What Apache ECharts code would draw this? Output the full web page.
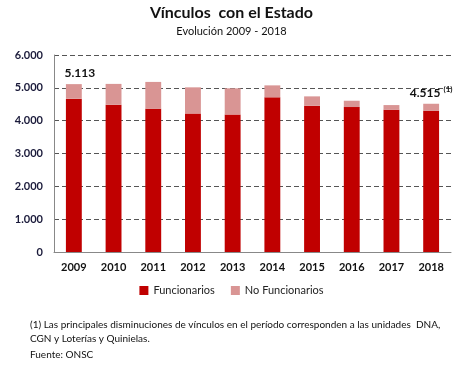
<!DOCTYPE html>
<html><head><meta charset="utf-8">
<script src="https://cdn.jsdelivr.net/npm/echarts@6/dist/echarts.min.js"></script>
<style>html,body{margin:0;padding:0;background:#fff}#c{width:463px;height:372px}</style>
</head><body><div id="c"></div>
<script>
const years = ['2009','2010','2011','2012','2013','2014','2015','2016','2017','2018'];
const funcionarios = [4670,4485,4360,4220,4190,4710,4455,4415,4330,4300];
const noFuncionarios = [443,635,820,795,795,365,285,192,145,215];
const yTicks = [0,1000,2000,3000,4000,5000,6000];
const FONT = 'Lato';
function fmt(v){return String(v).replace(/\B(?=(\d{3})+(?!\d))/g,'.');}
const totals = funcionarios.map((v,i)=>v+noFuncionarios[i]);
const chart = echarts.init(document.getElementById('c'));
const nfData = noFuncionarios.map((v,i)=>{
  if(i===0) return {value:v,label:{show:true,position:'top',distance:5,offset:[6,0],formatter:()=>'{v|'+fmt(totals[i])+'}'}};
  if(i===years.length-1) return {value:v,label:{show:true,position:'top',distance:4,offset:[0,0],formatter:()=>'{v|'+fmt(totals[i])+'} {s|(1)}'}};
  return v;
});
chart.setOption({
  animation:false,
  textStyle:{fontFamily:FONT},
  title:[{text:'Vínculos  con el Estado',left:'center',top:0,textStyle:{fontFamily:FONT,fontSize:16,fontWeight:'bold',color:'#111'}},
         {text:'Evolución 2009 - 2018',left:'center',top:21,textStyle:{fontFamily:FONT,fontSize:11,fontWeight:'normal',color:'#111'}}],
  grid:{left:54,right:12,top:55,bottom:120,containLabel:false},
  legend:{bottom:71,left:'center',itemWidth:9,itemHeight:9,itemGap:16,icon:'rect',textStyle:{fontFamily:FONT,fontSize:11,color:'#222'},data:['Funcionarios','No Funcionarios']},
  xAxis:{type:'category',data:years,axisTick:{show:false},axisLine:{lineStyle:{color:'#888'}},axisLabel:{fontFamily:FONT,fontSize:11,color:'#111',fontWeight:'bold',margin:10}},
  yAxis:{type:'value',min:yTicks[0],max:yTicks[yTicks.length-1],interval:1000,axisLine:{show:true,lineStyle:{color:'#888'}},axisTick:{show:false},
    axisLabel:{fontFamily:FONT,fontSize:11,color:'#1a1a3a',fontWeight:'bold',margin:11,formatter:v=>fmt(v)},
    splitLine:{lineStyle:{color:'#555',type:[5,3]}}},
  series:[
    {name:'Funcionarios',type:'bar',stack:'t',data:funcionarios,barWidth:'40%',itemStyle:{color:'#C00000'}},
    {name:'No Funcionarios',type:'bar',stack:'t',data:nfData,itemStyle:{color:'#D99594'},
      label:{show:false,rich:{v:{fontFamily:FONT,fontSize:12,fontWeight:'bold',color:'#111'},s:{fontFamily:FONT,fontSize:8,fontWeight:'bold',color:'#111',verticalAlign:'top',padding:[0,0,6,0]}}}}
  ],
  graphic:[
    {type:'text',left:30,top:320,style:{text:'(1) Las principales disminuciones de vínculos en el período corresponden a las unidades  DNA,',fontFamily:FONT,fontSize:10,fill:'#111'}},
    {type:'text',left:30,top:334,style:{text:'CGN y Loterías y Quinielas.',fontFamily:FONT,fontSize:10,fill:'#111'}},
    {type:'text',left:30,top:350,style:{text:'Fuente: ONSC',fontFamily:FONT,fontSize:10,fill:'#111'}}
  ]
});
</script></body></html>
